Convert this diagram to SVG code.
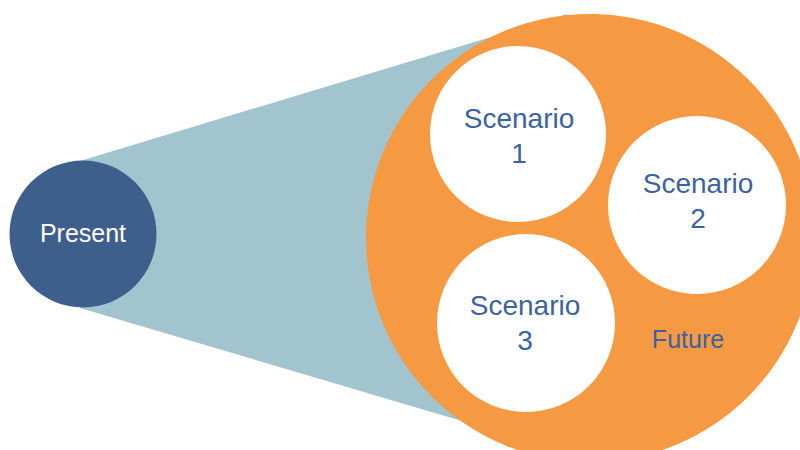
<svg xmlns="http://www.w3.org/2000/svg" width="800" height="450" viewBox="0 0 800 450">
<style>
.lbl{font-family:"Liberation Sans","DejaVu Sans",sans-serif;font-size:28px;fill:#3d62a0;text-anchor:middle}
.scen{fill:#ffffff}
</style>
<rect x="0" y="0" width="800" height="450" fill="#ffffff"/>
<g id="connectors">
<polygon points="80,161 567,14 567,452 80,308" fill="#a2c4cf"/>
</g>
<g id="present">
<circle cx="83" cy="234" r="73.5" fill="#3e5f8c"/>
<text x="83" y="242" class="lbl" style="fill:#ffffff;font-size:25px">Present</text>
</g>
<g id="future">
<circle cx="590" cy="238" r="224" fill="#f59a43"/>
<text x="688" y="348" class="lbl" style="font-size:25px">Future</text>
</g>
<g id="scenario1">
<circle cx="518" cy="134" r="88" class="scen"/>
<text x="519" y="128" class="lbl">Scenario</text>
<text x="519" y="163" class="lbl">1</text>
</g>
<g id="scenario2">
<circle cx="697" cy="205" r="89" class="scen"/>
<text x="698" y="193" class="lbl">Scenario</text>
<text x="698" y="228" class="lbl">2</text>
</g>
<g id="scenario3">
<circle cx="526" cy="323" r="89" class="scen"/>
<text x="525" y="315" class="lbl">Scenario</text>
<text x="525" y="350" class="lbl">3</text>
</g>
</svg>
